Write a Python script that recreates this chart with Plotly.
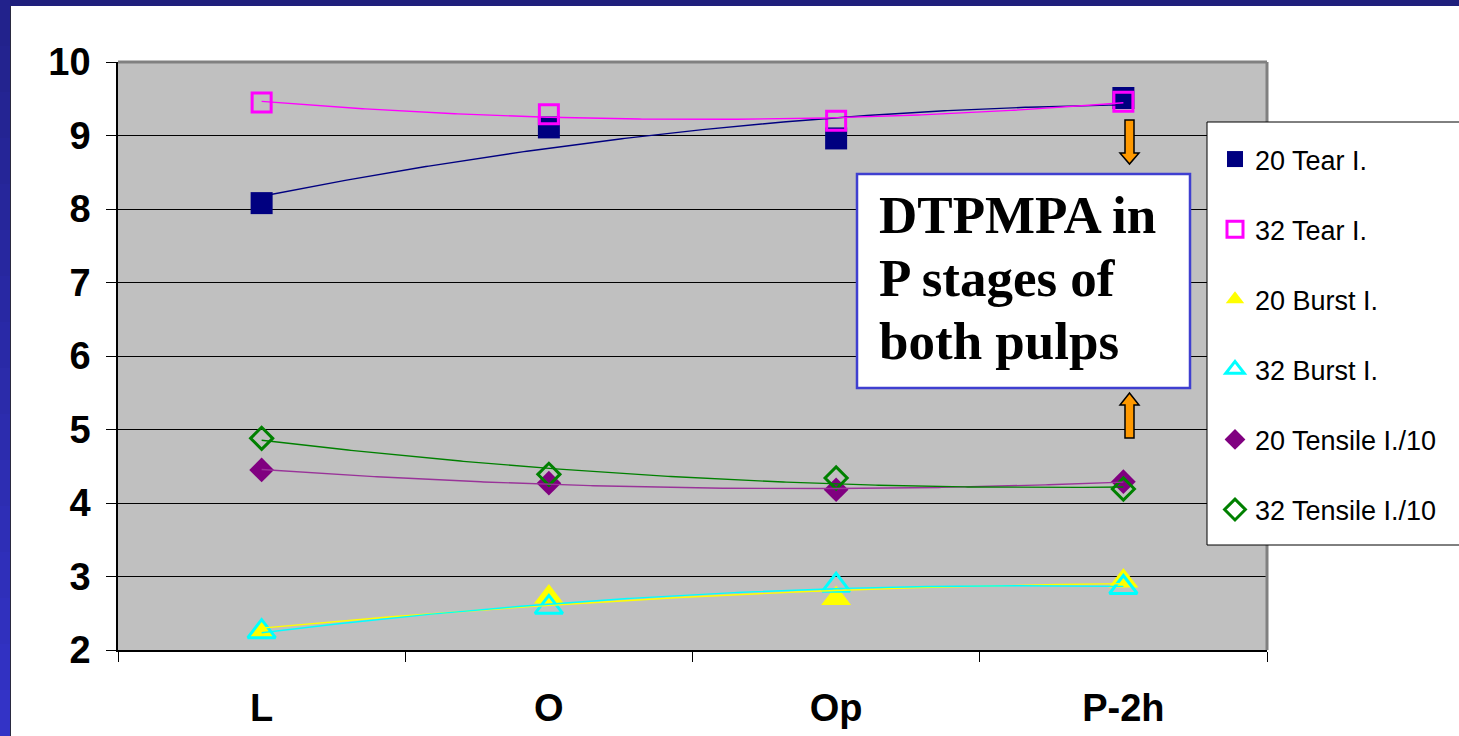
import numpy as np
import plotly.graph_objects as go

# ---- data -------------------------------------------------------------
stages = ["L", "O", "Op", "P-2h"]
stage_pos = [1, 2, 3, 4]

tear_20 = [8.08, 9.11, 8.96, 9.51]
tear_32 = [9.45, 9.29, 9.20, 9.46]
burst_20 = [2.26, 2.72, 2.70, 2.94]
burst_32 = [2.25, 2.58, 2.88, 2.85]
tensile_20 = [4.45, 4.27, 4.18, 4.29]
tensile_32 = [4.88, 4.39, 4.34, 4.19]

y_ticks = [2, 3, 4, 5, 6, 7, 8, 9, 10]

series = [
    ("20 Tear I.", tear_20, "#000080", "square", 22, 0, "#000080"),
    ("32 Tear I.", tear_32, "#FF00FF", "square-open", 19, 3, "#FF00FF"),
    ("20 Burst I.", burst_20, "#FFFF00", "triangle-up", 26, 0, "#FFFF00"),
    ("32 Burst I.", burst_32, "#00FFFF", "triangle-up-open", 24, 3, "#00FFFF"),
    ("20 Tensile I./10", tensile_20, "#800080", "diamond", 19, 0, "#993399"),
    ("32 Tensile I./10", tensile_32, "#008000", "diamond-open", 17, 3, "#008000"),
]

# ---- page geometry (pixels) -------------------------------------------
W, H = 1459, 736
PL, PR, PT, PB = 118, 1267, 62, 650   # plot area edges


def px(x):
    return (x - PL) / (PR - PL)


def py(y):
    return (PB - y) / (PB - PT)


def path_px(points):
    parts = []
    for i, (x, y) in enumerate(points):
        parts.append(("M" if i == 0 else "L") + f"{px(x):.5f},{py(y):.5f}")
    return " ".join(parts) + " Z"


fig = go.Figure()

# markers
for name, vals, color, symbol, size, lw, _ in series:
    fig.add_trace(go.Scatter(
        x=stage_pos, y=vals, mode="markers", name=name, legendgroup=name,
        marker=dict(symbol=symbol, size=size, color=color,
                    line=dict(color=color, width=lw)),
    ))

# second-order polynomial trend lines
xs = np.linspace(1, 4, 300)
for name, vals, color, symbol, size, lw, lcolor in series:
    coef = np.polyfit(stage_pos, vals, 2)
    fig.add_trace(go.Scatter(
        x=xs, y=np.polyval(coef, xs), mode="lines", showlegend=False,
        legendgroup=name, line=dict(color=lcolor, width=1.4),
        hoverinfo="skip",
    ))

shapes = []

# slide frame: dark top band and shaded left band
shapes.append(dict(type="rect", xref="paper", yref="paper",
                   x0=px(0), x1=px(W), y0=py(0), y1=py(6),
                   fillcolor="#1F1F7C", line=dict(width=0), layer="below"))
n_band = 16
top_rgb = np.array([0x22, 0x22, 0x8C])
bot_rgb = np.array([0x33, 0x33, 0xC6])
for i in range(n_band):
    t = i / (n_band - 1)
    c = (top_rgb * (1 - t) + bot_rgb * t).astype(int)
    y0 = i * H / n_band
    y1 = (i + 1) * H / n_band + 1
    shapes.append(dict(type="rect", xref="paper", yref="paper",
                       x0=px(0), x1=px(10), y0=py(y1), y1=py(y0),
                       fillcolor=f"rgb({c[0]},{c[1]},{c[2]})",
                       line=dict(width=0), layer="below"))
shapes.append(dict(type="line", xref="paper", yref="paper",
                   x0=px(10.5), x1=px(10.5), y0=py(6), y1=py(H),
                   line=dict(color="#2A2A40", width=1)))

# plot area border (top and right)
shapes.append(dict(type="line", xref="paper", yref="paper",
                   x0=0, x1=1, y0=1, y1=1, line=dict(color="#808080", width=3)))
shapes.append(dict(type="line", xref="paper", yref="paper",
                   x0=1, x1=1, y0=0, y1=1, line=dict(color="#808080", width=3)))

# legend frame
shapes.append(dict(type="rect", xref="paper", yref="paper",
                   x0=px(1207), x1=px(1480), y0=py(545), y1=py(122),
                   fillcolor="white", line=dict(color="#000000", width=1)))

# text box frame
shapes.append(dict(type="rect", xref="paper", yref="paper",
                   x0=px(857), x1=px(1190), y0=py(388), y1=py(174),
                   fillcolor="white", line=dict(color="#3F3FD0", width=2.5)))

# orange block arrows
down_arrow = [(1125, 120), (1134, 120), (1134, 153), (1139, 153), (1129.5, 164),
              (1120, 153), (1125, 153)]
up_arrow = [(1125, 438), (1134, 438), (1134, 405), (1139, 405), (1129.5, 393),
            (1120, 405), (1125, 405)]
for pts in (down_arrow, up_arrow):
    shapes.append(dict(type="path", xref="paper", yref="paper", path=path_px(pts),
                       fillcolor="#FF9900", line=dict(color="#000000", width=1.5)))

annotations = []
box_lines = ["DTPMPA in", "P stages of", "both pulps"]
baselines = [237, 300, 363]
for txt, base in zip(box_lines, baselines):
    annotations.append(dict(
        text=f"<b>{txt}</b>", xref="paper", yref="paper",
        x=px(877), y=py(base - 22), xanchor="left", yanchor="middle",
        showarrow=False,
        font=dict(family="Liberation Serif, Times New Roman, serif", size=53,
                  color="#000000"),
    ))

fig.update_layout(
    width=W, height=H,
    margin=dict(l=PL, r=W - PR, t=PT, b=H - PB, autoexpand=False),
    paper_bgcolor="#FFFFFF",
    plot_bgcolor="#C0C0C0",
    shapes=shapes,
    annotations=annotations,
    showlegend=True,
    legend=dict(
        x=px(1215), y=py(135), xanchor="left", yanchor="top",
        bgcolor="rgba(0,0,0,0)", borderwidth=0,
        font=dict(family="Liberation Sans, Arial, sans-serif", size=27,
                  color="#000000"),
        tracegroupgap=32, itemsizing="trace", traceorder="grouped",
    ),
    xaxis=dict(
        range=[0.5, 4.5], tickmode="array", tickvals=stage_pos, ticktext=stages,
        ticks="", showgrid=False, zeroline=False,
        showline=True, linecolor="#000000", linewidth=2,
        tickfont=dict(family="Liberation Sans, Arial, sans-serif", size=38,
                      color="#000000", weight="bold"),
        ticklabelstandoff=23,
        minor=dict(tickvals=[0.5, 1.5, 2.5, 3.5, 4.5], ticks="outside",
                   ticklen=10, tickcolor="#000000", tickwidth=1, showgrid=False),
    ),
    yaxis=dict(
        range=[2, 10], tickmode="array", tickvals=y_ticks,
        ticks="outside", ticklen=10, tickcolor="#000000", tickwidth=1,
        showgrid=True, gridcolor="#000000", gridwidth=1,
        zeroline=False, showline=True, linecolor="#000000", linewidth=1.5,
        tickfont=dict(family="Liberation Sans, Arial, sans-serif", size=38,
                      color="#000000", weight="bold"),
        ticklabelstandoff=8,
    ),
)

fig.write_html("out.html")
